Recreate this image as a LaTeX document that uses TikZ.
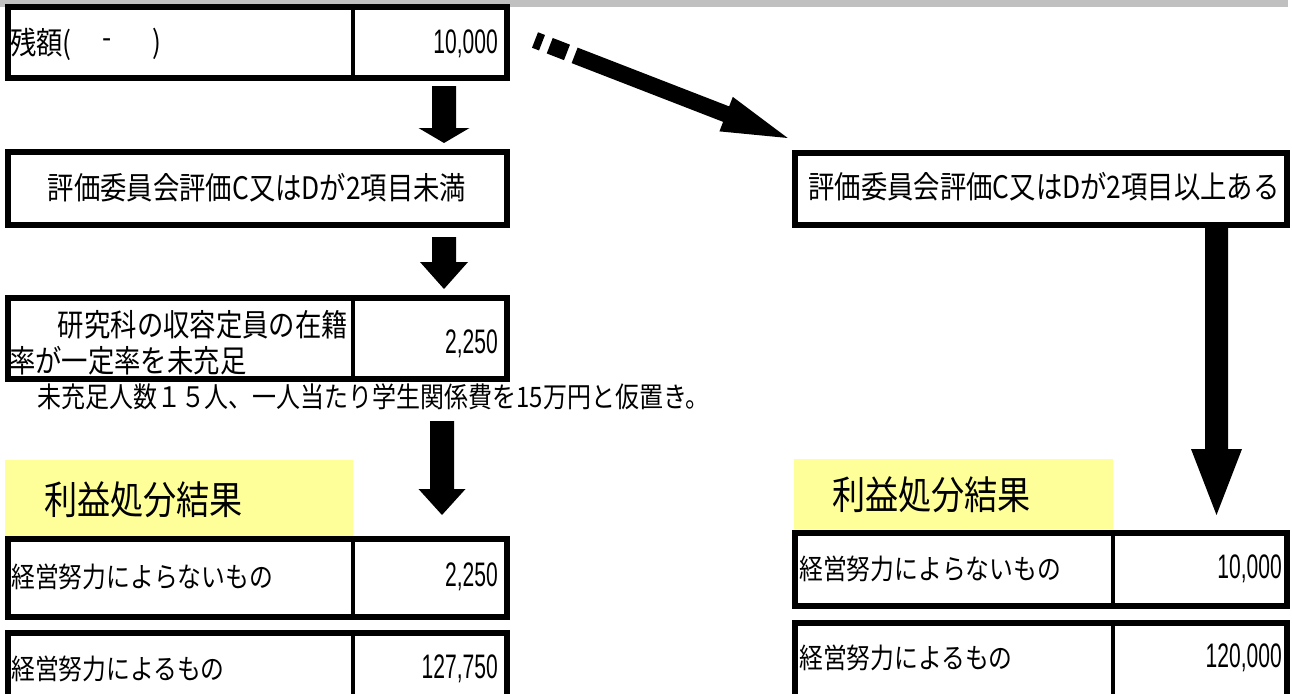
\documentclass[tikz,border=0pt]{standalone}
\usepackage{fontspec}
\newfontfamily\jp[FakeStretch=0.85]{Noto Sans CJK JP}
\newfontfamily\numf[FakeStretch=0.62]{Liberation Sans}
\definecolor{barg}{RGB}{192,192,192}
\definecolor{yel}{RGB}{255,255,153}
\newcommand\blockdown[6]{%
  \fill ({#1-#5},#2) -- ({#1+#5},#2) -- ({#1+#5},#3) -- ({#1+#6},#3) -- (#1,#4) -- ({#1-#6},#3) -- ({#1-#5},#3) -- cycle;}
\tikzset{
  cell/.style={draw, line width=6pt, inner sep=0pt, anchor=north west},
  divline/.style={line width=3.5pt},
  boxtxt/.style={inner sep=0pt, font=\jp\fontsize{31}{33}\selectfont},
  notetxt/.style={inner sep=0pt, font=\jp\fontsize{28.2}{30}\selectfont},
  lbltxt/.style={inner sep=0pt, anchor=west, font=\jp\fontsize{28}{30}\selectfont},
  titletxt/.style={inner sep=0pt, anchor=west, font=\jp\fontsize{39}{41}\selectfont},
  numtxt/.style={inner sep=0pt, anchor=east, font=\numf\fontsize{34}{36}\selectfont},
  yelbox/.style={fill=yel, draw=none, inner sep=0pt, anchor=north west},
}
\begin{document}
\begin{tikzpicture}[x=1pt,y=-1pt]
\useasboundingbox (0,0) rectangle (1292,693);
\clip (0,0) rectangle (1292,693);
\fill[white] (0,0) rectangle (1292,693);
\fill[barg] (0,0) rectangle (1288,7);
\coordinate (dL) at (353,0);
\coordinate (dR) at (1113,0);
% left column boxes
\node[cell, minimum width=499pt, minimum height=71pt] (A) at (5,4) {};
\draw[divline] (A.north -| dL) -- (A.south -| dL);
\node[boxtxt, anchor=west] (tA1) at (10,44) {残額(};
\node[boxtxt] (tA2) at (107,44) {-};
\node[boxtxt] (tA3) at (157,44) {)};
\node[numtxt] (nA) at (498,44) {10,000};

\node[cell, minimum width=499pt, minimum height=73pt] (B) at (5,149) {};
\node[boxtxt] (tB) at (257,188) {評価委員会評価C又はDが2項目未満};

\node[cell, minimum width=499pt, minimum height=81pt] (C) at (5,295) {};
\draw[divline] (C.north -| dL) -- (C.south -| dL);
\node[boxtxt, anchor=east] (tC1) at (348,325) {研究科の収容定員の在籍};
\node[boxtxt, anchor=west] (tC2) at (9,361) {率が一定率を未充足};
\node[numtxt] (nC) at (498,344) {2,250};

\node[notetxt, anchor=west] (note) at (37,397) {未充足人数１５人、一人当たり学生関係費を15万円と仮置き。};

\node[yelbox, minimum width=348pt, minimum height=76pt] (YL) at (5,460) {};
\node[titletxt] (tYL) at (44,500) {利益処分結果};
\node[cell, minimum width=499pt, minimum height=78pt] (D) at (5,536) {};
\draw[divline] (D.north -| dL) -- (D.south -| dL);
\node[lbltxt] (tD) at (11,577) {経営努力によらないもの};
\node[numtxt] (nD) at (498,577) {2,250};
\node[cell, minimum width=499pt, minimum height=90pt] (E) at (5,630) {};
\draw[divline] (E.north -| dL) -- (E.south -| dL);
\node[lbltxt] (tE) at (11,669) {経営努力によるもの};
\node[numtxt] (nE) at (498,669) {127,750};

% right column
\node[cell, minimum width=492pt, minimum height=72pt] (F) at (792,150) {};
\node[boxtxt] (tF) at (1044,187) {評価委員会評価C又はDが2項目以上ある};
\node[yelbox, minimum width=319pt, minimum height=70pt] (YR) at (794,459) {};
\node[titletxt] (tYR) at (832,495) {利益処分結果};
\node[cell, minimum width=492pt, minimum height=73pt] (G) at (792,530) {};
\draw[divline] (G.north -| dR) -- (G.south -| dR);
\node[lbltxt] (tG) at (799,569) {経営努力によらないもの};
\node[numtxt] (nG) at (1282,569) {10,000};
\node[cell, minimum width=492pt, minimum height=90pt] (H) at (792,620) {};
\draw[divline] (H.north -| dR) -- (H.south -| dR);
\node[lbltxt] (tH) at (799,658) {経営努力によるもの};
\node[numtxt] (nH) at (1282,658) {120,000};

% block arrows
\blockdown{444}{86}{128}{143}{12}{25.5}
\blockdown{444}{237}{262}{289}{12}{24}
\blockdown{442}{421}{489}{515}{12}{23.5}
\blockdown{1216.5}{228}{449}{515}{11.5}{25.5}

% striped arrow
\begin{scope}[shift={(535,40)}, rotate=-21.2]
  \fill (0,-8.3) rectangle (7.5,8.3);
  \fill (15.8,-8.3) rectangle (34.3,8.3);
  \fill (42.5,-8.3) -- (205,-8.3) -- (205,-18.5) -- (271,0) -- (205,18.5) -- (205,8.3) -- (42.5,8.3) -- cycle;
\end{scope}
\end{tikzpicture}
\end{document}
